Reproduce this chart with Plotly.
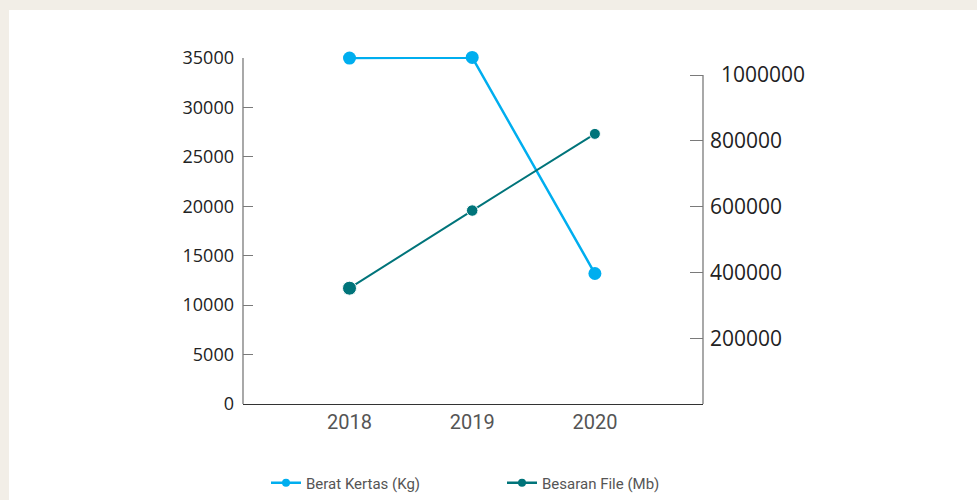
import plotly.graph_objects as go

years = ["2018", "2019", "2020"]
berat_kertas = [34990, 35060, 13200]
besaran_file = [352000, 588000, 821000]
left_ticks = [0, 5000, 10000, 15000, 20000, 25000, 30000, 35000]
left_labels = ["0", "5000", "10000", "15000", "20000", "25000", "30000", "35000"]
right_ticks = [200000, 400000, 600000, 800000, 1000000]
right_labels = ["200000", "400000", "600000", "800000", "\u00a0\u00a01000000"]

BLUE = "#00aeef"
TEAL = "#00747a"

W, H = 977, 500
L, R, T, B = 243, 703, 57, 404
pw, ph = R - L, B - T


def px_x(p):
    return (p - L) / pw


def px_y(p):
    return (B - p) / ph


fig = go.Figure()
fig.add_trace(go.Scatter(
    x=years, y=berat_kertas, mode="lines+markers", name="Berat Kertas (Kg)",
    line=dict(color=BLUE, width=2.5), marker=dict(color=BLUE, size=13, opacity=1),
    cliponaxis=False, showlegend=False, yaxis="y"))
fig.add_trace(go.Scatter(
    x=years, y=besaran_file, mode="lines+markers", name="Besaran File (Mb)",
    line=dict(color=TEAL, width=2),
    marker=dict(color=TEAL, size=[14, 11.5, 11], opacity=1),
    cliponaxis=False, showlegend=False, yaxis="y2"))
# legend entries
fig.add_trace(go.Scatter(
    x=[None], y=[None], mode="lines+markers", name="Berat Kertas (Kg)",
    line=dict(color=BLUE, width=2.5), marker=dict(color=BLUE, size=8),
    legend="legend"))
fig.add_trace(go.Scatter(
    x=[None], y=[None], mode="lines+markers", name="Besaran File (Mb)",
    line=dict(color=TEAL, width=2.5), marker=dict(color=TEAL, size=8),
    legend="legend2"))

y1max = 35000 * ph / (B - 58)
y2max = 1000000 * ph / (B - 75)

legend_common = dict(xref="container", yref="container", xanchor="left",
                     y=(H - 483) / H, yanchor="middle",
                     font=dict(family="Roboto", size=15, color="#555555"),
                     bgcolor="rgba(0,0,0,0)")

fig.update_layout(
    width=W, height=H,
    margin=dict(l=L, r=W - R, t=T, b=H - B, pad=0, autoexpand=False),
    paper_bgcolor="#f2eee7",
    plot_bgcolor="white",
    showlegend=True,
    legend=dict(x=266 / W, **legend_common),
    legend2=dict(x=502 / W, **legend_common),
    xaxis=dict(type="category", range=[-0.868, 2.881], showgrid=False,
               showline=True, linecolor="#333333", linewidth=1.3,
               ticks="", zeroline=False,
               tickfont=dict(family="Roboto", size=20, color="#555555")),
    yaxis=dict(range=[0, y1max], tickvals=left_ticks, ticktext=left_labels,
               showgrid=False,
               zeroline=False, showline=False,
               ticks="inside", ticklen=10, tickcolor="#7a7a7a", tickwidth=1,
               ticklabelstandoff=8,
               tickfont=dict(family="Open Sans", size=18, color="#222222")),
    yaxis2=dict(overlaying="y", side="right", range=[0, y2max],
                tickvals=right_ticks, ticktext=right_labels, showgrid=False,
                zeroline=False, showline=False,
                ticks="inside", ticklen=13, tickcolor="#7a7a7a", tickwidth=1,
                ticklabelstandoff=6,
                tickfont=dict(family="Open Sans", size=21, color="#222222")),
    shapes=[
        dict(type="rect", xref="paper", yref="paper", layer="below",
             x0=px_x(9), x1=px_x(W + 5), y0=px_y(H + 5), y1=px_y(10),
             fillcolor="white", line=dict(width=0)),
        dict(type="line", xref="paper", yref="y", x0=0, x1=0,
             y0=0, y1=35000, line=dict(color="#7a7a7a", width=1.3)),
        dict(type="line", xref="paper", yref="y2", x0=1, x1=1,
             y0=0, y1=1000000, line=dict(color="#7a7a7a", width=1.3)),
    ],
)

fig.write_html("out.html", config={"displayModeBar": False},
               post_script="document.body.style.margin='0';")
